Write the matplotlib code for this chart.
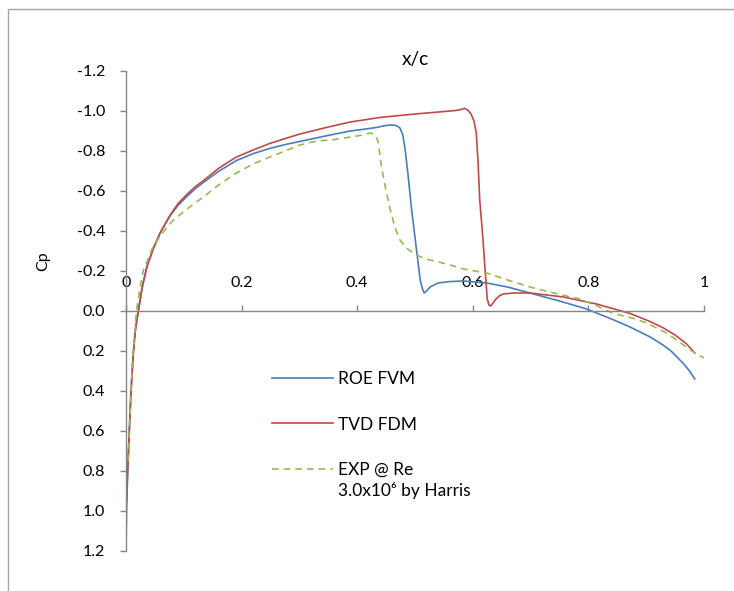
import matplotlib
matplotlib.use("Agg")
import matplotlib.pyplot as plt
from matplotlib.patches import Rectangle

#########################################
# Data
#########################################

roe_x = [0.0, 0.001, 0.003, 0.0057, 0.0085, 0.0126, 0.016, 0.021, 0.028, 0.036, 0.047, 0.059,
         0.076, 0.09, 0.105, 0.12, 0.134, 0.16, 0.191, 0.22, 0.249, 0.275, 0.301, 0.35,
         0.388, 0.42, 0.434, 0.445, 0.457, 0.467, 0.474, 0.479, 0.483, 0.488, 0.494, 0.502,
         0.509, 0.513, 0.516, 0.52, 0.526, 0.54, 0.56, 0.584, 0.624, 0.66, 0.699, 0.75,
         0.797, 0.84, 0.872, 0.907, 0.93, 0.943, 0.955, 0.965, 0.975, 0.984]
roe_cp = [1.18, 1.0, 0.8, 0.6, 0.4, 0.21, 0.1, 0.0, -0.12, -0.22, -0.31, -0.39,
          -0.475, -0.528, -0.572, -0.612, -0.643, -0.698, -0.752, -0.787, -0.813, -0.832, -0.848, -0.878,
          -0.9, -0.912, -0.918, -0.925, -0.93, -0.928, -0.915, -0.88, -0.805, -0.68, -0.51, -0.32,
          -0.155, -0.11, -0.09, -0.1, -0.12, -0.14, -0.147, -0.15, -0.14, -0.12, -0.09, -0.05,
          -0.01, 0.04, 0.08, 0.13, 0.172, 0.2, 0.235, 0.265, 0.3, 0.34]

tvd_x = [0.001, 0.002, 0.004, 0.0065, 0.0095, 0.0125, 0.016, 0.021, 0.028, 0.036, 0.047, 0.059,
         0.076, 0.09, 0.105, 0.12, 0.134, 0.16, 0.191, 0.22, 0.249, 0.275, 0.301, 0.35,
         0.388, 0.44, 0.5, 0.561, 0.572, 0.58, 0.586, 0.591, 0.597, 0.602, 0.606, 0.609,
         0.612, 0.617, 0.621, 0.625, 0.628, 0.631, 0.635, 0.64, 0.647, 0.653, 0.67, 0.699,
         0.757, 0.814, 0.872, 0.907, 0.93, 0.95, 0.97, 0.984]
tvd_cp = [0.95, 0.86, 0.72, 0.55, 0.37, 0.22, 0.1, 0.01, -0.115, -0.22, -0.31, -0.39,
          -0.478, -0.537, -0.582, -0.622, -0.652, -0.713, -0.77, -0.805, -0.838, -0.862, -0.885, -0.92,
          -0.945, -0.968, -0.985, -1.0, -1.003, -1.008, -1.013, -1.005, -0.985, -0.95, -0.89, -0.75,
          -0.555, -0.38, -0.22, -0.06, -0.03, -0.025, -0.04, -0.06, -0.078, -0.085, -0.09, -0.09,
          -0.07, -0.035, 0.012, 0.053, 0.085, 0.12, 0.165, 0.21]

exp_x = [0.004, 0.006, 0.008, 0.0115, 0.015, 0.018, 0.024, 0.03, 0.037, 0.045, 0.058, 0.07,
         0.082, 0.093, 0.11, 0.134, 0.16, 0.191, 0.22, 0.249, 0.275, 0.301, 0.33, 0.36,
         0.388, 0.41, 0.422, 0.43, 0.436, 0.442, 0.45, 0.457, 0.465, 0.474, 0.485, 0.497,
         0.51, 0.526, 0.555, 0.584, 0.624, 0.66, 0.699, 0.74, 0.785, 0.815, 0.843, 0.875,
         0.901, 0.935, 0.955, 0.976, 1.0]
exp_cp = [0.75, 0.6, 0.445, 0.245, 0.12, 0.0, -0.11, -0.205, -0.25, -0.31, -0.37, -0.415,
          -0.455, -0.48, -0.52, -0.57, -0.63, -0.69, -0.735, -0.77, -0.8, -0.83, -0.85, -0.857,
          -0.87, -0.88, -0.89, -0.885, -0.85, -0.72, -0.6, -0.51, -0.42, -0.355, -0.315, -0.29,
          -0.27, -0.255, -0.235, -0.21, -0.19, -0.155, -0.12, -0.09, -0.06, -0.025, 0.012, 0.035,
          0.06, 0.11, 0.15, 0.195, 0.235]

x_ticks = [0, 0.2, 0.4, 0.6, 0.8, 1.0]
x_labels = ["0", "0.2", "0.4", "0.6", "0.8", "1"]
y_ticks = [-1.2, -1.0, -0.8, -0.6, -0.4, -0.2, 0.0, 0.2, 0.4, 0.6, 0.8, 1.0, 1.2]
y_labels = [f"{v:.1f}" for v in y_ticks]

#########################################
# Plot
#########################################

plt.rcParams['font.family'] = ['Lato', 'DejaVu Sans']
plt.rcParams['font.size'] = 11.5
plt.rcParams['axes.unicode_minus'] = False

axis_gray = '#868686'

fig = plt.figure(figsize=(7.34, 5.91), dpi=100)
ax = fig.add_axes([126 / 734, 1 - 551 / 591, 578 / 734, 480 / 591])

# chart area border (Excel style, cut off on the right/bottom)
fig.patches.append(Rectangle((8 / 734, -0.1), 1.2, 1.1 - 9 / 591, transform=fig.transFigure,
                             fill=False, edgecolor='#a6a6a6', linewidth=1.0))

ax.plot(roe_x, roe_cp, color='#4a7ebb', lw=1.2, label='ROE FVM')
ax.plot(tvd_x, tvd_cp, color='#be4b48', lw=1.2, label='TVD FDM')
ax.plot(exp_x, exp_cp, color='#98b954', lw=1.2, ls=(0, (4, 3)), label='EXP @ Re')

ax.set_xlim(0, 1)
ax.set_ylim(1.2, -1.2)

ax.spines['top'].set_visible(False)
ax.spines['right'].set_visible(False)
ax.spines['bottom'].set_position(('data', 0))
for s in ('left', 'bottom'):
    ax.spines[s].set_color(axis_gray)
    ax.spines[s].set_linewidth(1.0)

ax.set_xticks(x_ticks, x_labels)
ax.set_yticks(y_ticks, y_labels)
ax.tick_params(axis='x', direction='in', length=4, width=1, color=axis_gray, pad=-25.5)
ax.tick_params(axis='y', direction='out', length=4.5, width=1, color=axis_gray, pad=10.5)

ax.set_title('x/c', pad=4)
ax.set_ylabel('Cp')
ax.yaxis.set_label_coords(-0.131, 0.604)

leg = ax.legend(loc='upper left', bbox_to_anchor=(0.2526, 0.375), frameon=False,
                borderpad=0, borderaxespad=0, handlelength=3.5, handletextpad=0.3,
                labelspacing=1.7, fontsize=12.5)
# second line of the third legend entry, drawn after the legend is placed
ax.annotate('3.0x10\u2076 by Harris', xy=(0, 0), xycoords=leg.get_texts()[2],
            xytext=(0, -3), textcoords='offset points', ha='left', va='top',
            fontsize=12.5, zorder=10)

fig.savefig('out.png', dpi=100)
